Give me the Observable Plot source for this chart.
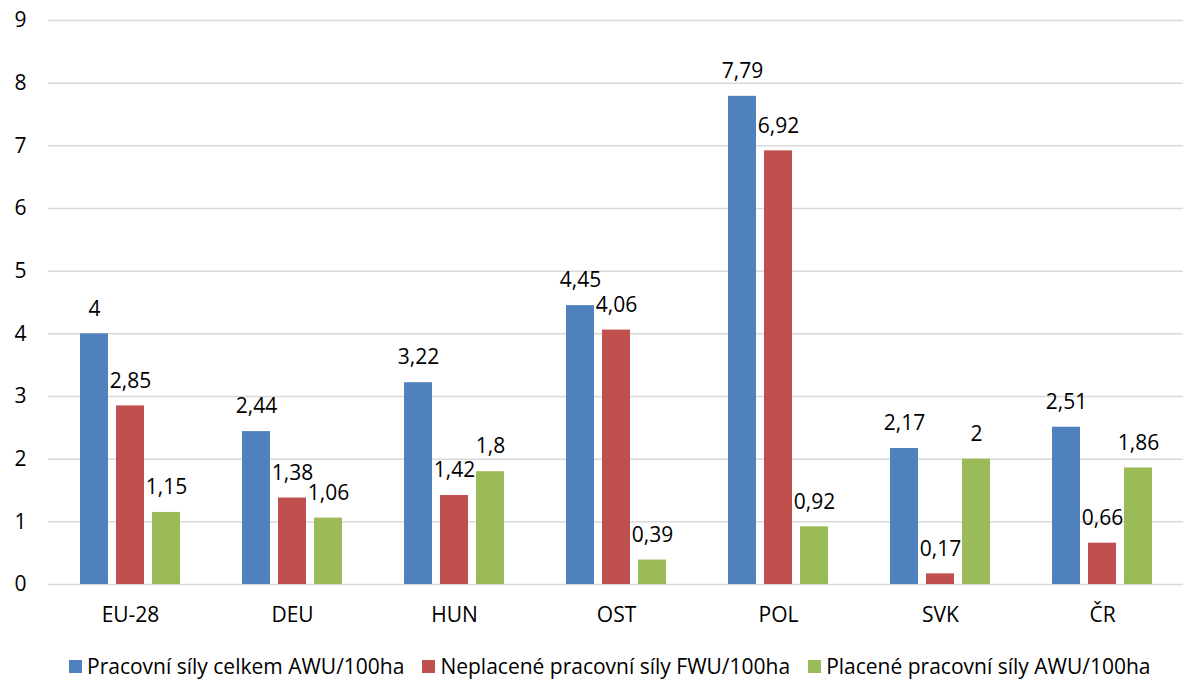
<!DOCTYPE html>
<html>
<head>
<meta charset="utf-8">
<script src="https://cdn.jsdelivr.net/npm/d3@7"></script>
<script src="https://cdn.jsdelivr.net/npm/@observablehq/plot@0.6"></script>
<style>
  html, body { margin: 0; padding: 0; background: #fff; }
  body { width: 1185px; height: 682px; overflow: hidden; font-family: "Open Sans", sans-serif; }
  #legend { display: flex; align-items: center; padding-left: 69px; padding-top: 10px; height: 32px; font-size: 21px; color: #000; }
  #legend .item { display: flex; align-items: center; margin-right: 18px; }
  #legend .sw { width: 13px; height: 13px; margin-right: 5px; }
</style>
</head>
<body>
<div id="chart"></div>
<div id="legend"></div>
<script>
const categories = ["EU-28", "DEU", "HUN", "OST", "POL", "SVK", "ČR"];
const seriesNames = [
  "Pracovní síly celkem AWU/100ha",
  "Neplacené pracovní síly FWU/100ha",
  "Placené pracovní síly AWU/100ha"
];
const celkem = [4, 2.44, 3.22, 4.45, 7.79, 2.17, 2.51];
const neplacene = [2.85, 1.38, 1.42, 4.06, 6.92, 0.17, 0.66];
const placene = [1.15, 1.06, 1.8, 0.39, 0.92, 2, 1.86];
const yTicks = [0, 1, 2, 3, 4, 5, 6, 7, 8, 9];
const colors = ["#4F81BD", "#C0504D", "#9BBB59"];

const seriesValues = [celkem, neplacene, placene];
const offsets = [-36, 0, 36];
const fmt = v => String(v).replace(".", ",");

const marks = [
  Plot.ruleY(yTicks, {stroke: "#d9d9d9", strokeWidth: 1.5})
];
seriesValues.forEach((vals, i) => {
  const rows = categories.map((c, j) => ({cat: c, value: vals[j]}));
  marks.push(Plot.barY(rows, {x: "cat", y: "value", fill: colors[i], dx: offsets[i], insetLeft: 67, insetRight: 67}));
  marks.push(Plot.text(rows, {x: "cat", y: "value", text: d => fmt(d.value), dx: offsets[i], dy: -25, fontSize: 21, fill: "#000"}));
});
marks.push(Plot.axisY({ticks: yTicks, tickSize: 0, tickPadding: 22, tickFormat: d => String(d), fontSize: 21}));
marks.push(Plot.axisX({tickSize: 0, tickPadding: 23, fontSize: 21}));

const chart = Plot.plot({
  width: 1185,
  height: 640,
  marginTop: 20,
  marginBottom: 56,
  marginLeft: 48,
  marginRight: 2,
  style: {fontFamily: "Open Sans", fontSize: "21px", color: "#000", background: "#fff"},
  x: {domain: categories, padding: 0, label: null},
  y: {domain: [0, 9], label: null},
  marks
});
document.getElementById("chart").appendChild(chart);

const legend = document.getElementById("legend");
seriesNames.forEach((name, i) => {
  const item = document.createElement("div");
  item.className = "item";
  const sw = document.createElement("span");
  sw.className = "sw";
  sw.style.background = colors[i];
  const t = document.createElement("span");
  t.textContent = name;
  item.appendChild(sw);
  item.appendChild(t);
  legend.appendChild(item);
});
</script>
</body>
</html>
